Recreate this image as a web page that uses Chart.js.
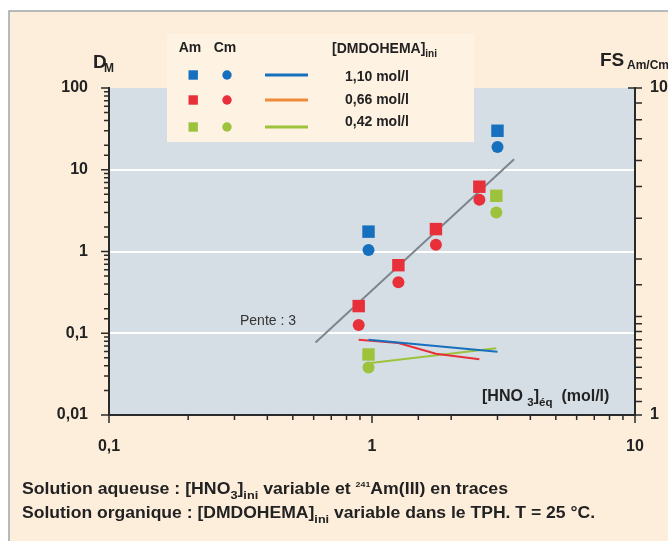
<!DOCTYPE html>
<html>
<head>
<meta charset="utf-8">
<script src="https://cdn.jsdelivr.net/npm/chart.js@4"></script>
<style>
  html, body { margin: 0; padding: 0; background: #fff; }
  canvas { display: block; }
</style>
</head>
<body>
<canvas id="chart" width="668" height="541"></canvas>
<script>
const FONT = '"Liberation Sans", Arial, sans-serif';

// [HNO3]eq (mol/l) and D values
const acid110 = [0.97, 3.0];
const dAm110 = [1.75, 30];
const dCm110 = [1.04, 19];
const acid066 = [0.89, 1.26, 1.75, 2.56];
const dAm066 = [0.215, 0.68, 1.88, 6.2];
const dCm066 = [0.126, 0.42, 1.21, 4.3];
const acid042 = [0.97, 2.97];
const dAm042 = [0.055, 4.8];
const dCm042 = [0.038, 3.0];

// separation factor FS Am/Cm (right axis)
const fs110 = [1.70, 1.56];
const fs066 = [1.70, 1.66, 1.54, 1.48];
const fs042 = [1.44, 1.60];

// "Pente : 3" guide line
const slopeX = [0.61, 3.47];
const slopeY = [0.077, 13.4];

const yTickValues = [0.01, 0.1, 1, 10, 100];
const yTickLabels = ["0,01", "0,1", "1", "10", "100"];
const xTickValues = [0.1, 1, 10];
const xTickLabels = ["0,1", "1", "10"];
const y2TickValues = [1, 10];
const y2TickLabels = ["1", "10"];

const legendRows = ["1,10 mol/l", "0,66 mol/l", "0,42 mol/l"];

const BLUE = "#1670bd";
const RED = "#e8303a";
const GREEN = "#9dc33c";
const ORANGE = "#f08a3a";
const GREY = "#7d868e";
const INK = "#222";

const pts = (xs, ys) => xs.map((x, i) => ({ x, y: ys[i] }));
const isMajor = v => Math.abs(Math.log10(v) - Math.round(Math.log10(v))) < 1e-9;
const labelFor = (vals, labels) => v => {
  const i = vals.findIndex(t => Math.abs(t - v) / t < 1e-9);
  return i >= 0 ? labels[i] : "";
};

function marker(label, xs, ys, color, style) {
  return {
    label, data: pts(xs, ys), yAxisID: "y", showLine: false,
    pointStyle: style, pointRadius: style === "rect" ? 8.8 : 6,
    backgroundColor: color, borderColor: color, borderWidth: 0,
  };
}

function line(label, xs, ys, color, axis, width) {
  return {
    label, data: pts(xs, ys), yAxisID: axis, showLine: true,
    pointRadius: 0, borderColor: color, borderWidth: width, tension: 0, fill: false,
  };
}

function drawRich(ctx, runs, x, y, size, width) {
  const fontOf = r => `bold ${r.s === "sub" ? size * 0.72 : r.s === "sup" ? size * 0.5 : size}px ${FONT}`;
  let w = 0;
  runs.forEach(r => { ctx.font = fontOf(r); w += ctx.measureText(r.t).width; });
  const k = width ? width / w : 1;
  ctx.save();
  ctx.translate(x, y);
  ctx.scale(k, 1);
  ctx.textAlign = "left";
  ctx.textBaseline = "alphabetic";
  let cx = 0;
  runs.forEach(r => {
    ctx.font = fontOf(r);
    const dy = r.s === "sub" ? size * 0.3 : r.s === "sup" ? -size * 0.42 : 0;
    ctx.fillText(r.t, cx, dy);
    cx += ctx.measureText(r.t).width;
  });
  ctx.restore();
}

const background = {
  id: "background",
  beforeDraw(chart) {
    const ctx = chart.ctx, a = chart.chartArea;
    ctx.save();
    ctx.fillStyle = "#fff";
    ctx.fillRect(0, 0, chart.width, chart.height);
    ctx.fillStyle = "#fdeedc";
    ctx.fillRect(9, 11, chart.width, chart.height);
    ctx.strokeStyle = "#9ea6ab";
    ctx.lineWidth = 1.5;
    ctx.beginPath();
    ctx.moveTo(9, chart.height);
    ctx.lineTo(9, 11);
    ctx.lineTo(chart.width, 11);
    ctx.stroke();
    ctx.fillStyle = "#d6dee5";
    ctx.fillRect(a.left, a.top, a.right - a.left, a.bottom - a.top);
    ctx.restore();
  }
};

const decorations = {
  id: "decorations",
  afterDraw(chart) {
    const ctx = chart.ctx, a = chart.chartArea;
    const sx = chart.scales.x, sy = chart.scales.y, s2 = chart.scales.y2;
    ctx.save();

    // tick marks
    ctx.strokeStyle = "#2a2a2a";
    ctx.lineWidth = 1.5;
    ctx.beginPath();
    sx.ticks.forEach(t => {
      const p = sx.getPixelForValue(t.value);
      ctx.moveTo(p, a.bottom);
      ctx.lineTo(p, a.bottom + (isMajor(t.value) ? 8 : 5));
    });
    sy.ticks.forEach(t => {
      const p = sy.getPixelForValue(t.value);
      ctx.moveTo(a.left, p);
      ctx.lineTo(a.left - (isMajor(t.value) ? 8 : 5), p);
    });
    s2.ticks.forEach(t => {
      const p = s2.getPixelForValue(t.value);
      const major = isMajor(t.value);
      ctx.moveTo(a.right - (major ? 7 : 0), p);
      ctx.lineTo(a.right + 7, p);
    });
    ctx.stroke();

    ctx.fillStyle = INK;
    // axis titles
    drawRich(ctx, [{ t: "D", s: "n" }], 93, 68, 19);
    drawRich(ctx, [{ t: "M", s: "n" }], 104, 72, 12);
    drawRich(ctx, [{ t: "FS", s: "n" }], 600, 66, 19);
    drawRich(ctx, [{ t: "Am/Cm", s: "n" }], 627, 69, 12);
    drawRich(ctx, [
      { t: "[HNO ", s: "n" }, { t: "3", s: "sub" }, { t: "]", s: "n" },
      { t: "éq", s: "sub" }, { t: "  (mol/l)", s: "n" }
    ], 482, 401, 16);

    ctx.fillStyle = "#333";
    ctx.font = `14px ${FONT}`;
    ctx.textBaseline = "middle";
    ctx.fillText("Pente : 3", 240, 321);

    // legend box
    ctx.fillStyle = "#fef2e3";
    ctx.fillRect(167, 34, 307, 108);
    ctx.fillStyle = INK;
    ctx.font = `bold 14px ${FONT}`;
    ctx.textBaseline = "middle";
    ctx.textAlign = "center";
    ctx.fillText("Am", 190, 48);
    ctx.fillText("Cm", 225, 48);
    ctx.textAlign = "left";
    drawRich(ctx, [{ t: "[DMDOHEMA]", s: "n" }, { t: "ini", s: "sub" }], 332, 53, 14);
    const rowY = [75, 100, 127];
    const rowText = [77, 100, 122];
    const rowColor = [BLUE, RED, GREEN];
    const rowLine = [BLUE, ORANGE, GREEN];
    rowY.forEach((y, i) => {
      ctx.fillStyle = rowColor[i];
      ctx.fillRect(188.5, y - 4.7, 9.4, 9.4);
      ctx.beginPath();
      ctx.arc(227, y, 4.7, 0, Math.PI * 2);
      ctx.fill();
      ctx.strokeStyle = rowLine[i];
      ctx.lineWidth = 3;
      ctx.beginPath();
      ctx.moveTo(265, y);
      ctx.lineTo(308, y);
      ctx.stroke();
      ctx.fillStyle = INK;
      ctx.font = `bold 14px ${FONT}`;
      ctx.textBaseline = "middle";
      ctx.fillText(legendRows[i], 345, rowText[i]);
    });

    // caption
    ctx.fillStyle = INK;
    drawRich(ctx, [
      { t: "Solution aqueuse : [HNO", s: "n" }, { t: "3", s: "sub" }, { t: "]", s: "n" },
      { t: "ini", s: "sub" }, { t: " variable et ", s: "n" }, { t: "241", s: "sup" },
      { t: "Am(III) en traces", s: "n" }
    ], 22, 494, 16, 486);
    drawRich(ctx, [
      { t: "Solution organique : [DMDOHEMA]", s: "n" }, { t: "ini", s: "sub" },
      { t: " variable dans le TPH. T = 25 °C.", s: "n" }
    ], 22, 518, 16, 573);

    ctx.restore();
  }
};

const tickFont = { family: FONT, size: 16, weight: "bold" };

new Chart(document.getElementById("chart"), {
  type: "scatter",
  data: {
    datasets: [
      marker("Am 1,10", acid110, dAm110, BLUE, "rect"),
      marker("Cm 1,10", acid110, dCm110, BLUE, "circle"),
      marker("Am 0,66", acid066, dAm066, RED, "rect"),
      marker("Cm 0,66", acid066, dCm066, RED, "circle"),
      marker("Am 0,42", acid042, dAm042, GREEN, "rect"),
      marker("Cm 0,42", acid042, dCm042, GREEN, "circle"),
      line("FS 1,10", acid110, fs110, BLUE, "y2", 2),
      line("FS 0,66", acid066, fs066, RED, "y2", 2),
      line("FS 0,42", acid042, fs042, GREEN, "y2", 2),
      line("Pente 3", slopeX, slopeY, GREY, "y", 2),
    ],
  },
  options: {
    responsive: false,
    animation: false,
    layout: { padding: { top: 88, left: 0, right: 0, bottom: 0 } },
    plugins: { legend: { display: false }, tooltip: { enabled: false } },
    scales: {
      x: {
        type: "logarithmic", min: 0.1, max: 10,
        grid: { display: false, drawTicks: false },
        border: { display: true, color: "#2a2a2a", width: 2 },
        ticks: { autoSkip: false, maxRotation: 0, padding: 22, color: INK, font: tickFont,
                 callback: labelFor(xTickValues, xTickLabels) },
        afterFit: s => { s.height = 126; },
      },
      y: {
        type: "logarithmic", position: "left", min: 0.01, max: 100,
        grid: {
          drawTicks: false, lineWidth: 2,
          color: c => c.tick && isMajor(c.tick.value) && c.tick.value > 0.011 && c.tick.value < 99 ? "#ffffff" : "rgba(0,0,0,0)",
        },
        border: { display: true, color: "#2a2a2a", width: 2 },
        ticks: { autoSkip: false, padding: 21, color: INK, font: tickFont,
                 callback: labelFor(yTickValues, yTickLabels) },
        afterFit: s => { s.width = 109; },
      },
      y2: {
        type: "logarithmic", position: "right", min: 1, max: 10,
        grid: { display: false, drawTicks: false },
        border: { display: true, color: "#2a2a2a", width: 2 },
        ticks: { autoSkip: false, padding: 15, color: INK, font: tickFont,
                 callback: labelFor(y2TickValues, y2TickLabels) },
        afterFit: s => { s.width = 33; },
      },
    },
  },
  plugins: [background, decorations],
});
</script>
</body>
</html>
